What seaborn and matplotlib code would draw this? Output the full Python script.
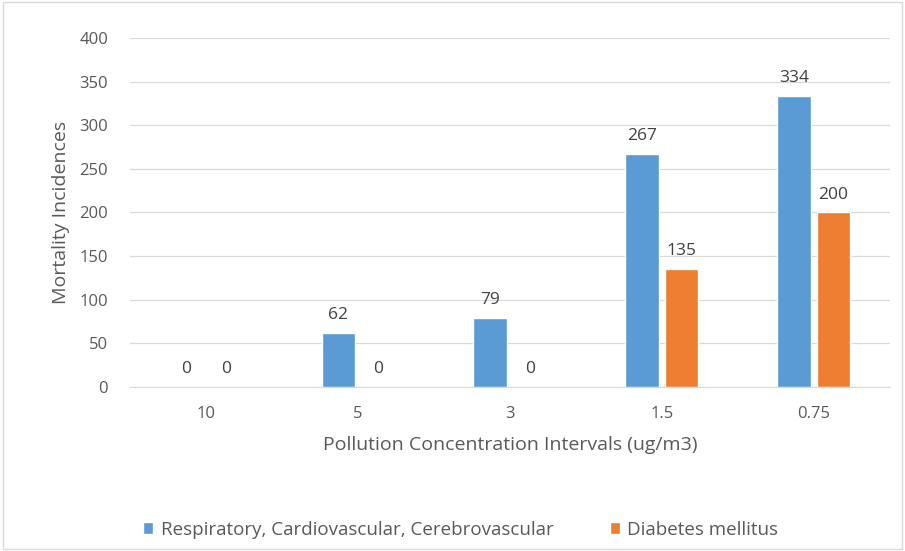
import pandas as pd
import seaborn as sns
import matplotlib.pyplot as plt

# Chart data
intervals = ['10', '5', '3', '1.5', '0.75']
respiratory = [0, 62, 79, 267, 334]
diabetes = [0, 0, 0, 135, 200]
series_names = ['Respiratory, Cardiovascular, Cerebrovascular', 'Diabetes mellitus']
yticks = [0, 50, 100, 150, 200, 250, 300, 350, 400]

df = pd.DataFrame({
    'Interval': intervals * 2,
    'Value': respiratory + diabetes,
    'Series': [series_names[0]] * len(intervals) + [series_names[1]] * len(intervals),
})

sns.set_style('white')
plt.rcParams['font.family'] = ['Open Sans', 'DejaVu Sans']

fig = plt.figure(figsize=(9.05, 5.51), dpi=100)
ax = fig.add_axes([0.144, 0.298, 0.839, 0.633])

palette = {series_names[0]: '#5B9BD5', series_names[1]: '#ED7D31'}
sns.barplot(data=df, x='Interval', y='Value', hue='Series', order=intervals,
            hue_order=series_names, palette=palette, width=0.52, gap=0.15,
            ax=ax, saturation=1)

for container in ax.containers:
    ax.bar_label(container, padding=7, fontsize=12.5, color='#404040')

ax.set_ylim(0, 400)
ax.set_yticks(yticks)
ax.yaxis.grid(True, color='#d9d9d9', linewidth=0.9)
ax.set_axisbelow(True)
for side in ['top', 'right', 'left']:
    ax.spines[side].set_visible(False)
ax.spines['bottom'].set_color('#d9d9d9')
ax.tick_params(axis='y', length=0, labelsize=12, labelcolor='#595959', pad=16)
ax.tick_params(axis='x', length=0, labelsize=12, labelcolor='#595959', pad=14)

ax.set_xlabel('Pollution Concentration Intervals (ug/m3)', fontsize=14, color='#595959', labelpad=10)
ax.set_ylabel('Mortality Incidences', fontsize=14, color='#595959', labelpad=7)

ax.legend(loc='upper center', bbox_to_anchor=(0.435, -0.335), ncol=2, frameon=False,
          fontsize=13.5, handlelength=0.55, handleheight=0.55, handletextpad=0.4,
          columnspacing=3.0, labelcolor='#595959')

# light outer border
fig.patches.append(plt.Rectangle((0.003, 0.003), 0.994, 0.994, transform=fig.transFigure,
                                 fill=False, edgecolor='#d9d9d9', linewidth=1))

fig.savefig('out.png', dpi=100)
